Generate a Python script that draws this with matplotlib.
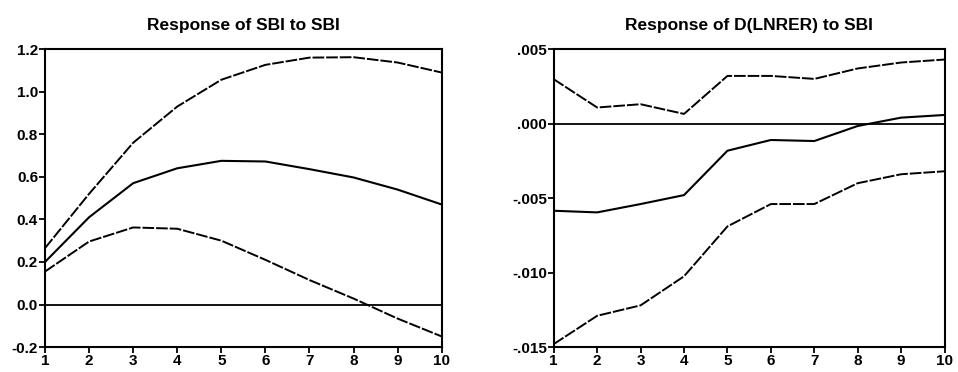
import numpy as np
import matplotlib.pyplot as plt

plt.rcParams['font.family'] = ['Liberation Sans', 'DejaVu Sans']

periods = [1, 2, 3, 4, 5, 6, 7, 8, 9, 10]

# Response of SBI to SBI
sbi_resp = [0.20, 0.41, 0.57, 0.64, 0.675, 0.672, 0.636, 0.597, 0.54, 0.47]
sbi_upper = [0.265, 0.52, 0.76, 0.93, 1.056, 1.126, 1.16, 1.162, 1.137, 1.09]
sbi_lower = [0.155, 0.296, 0.362, 0.356, 0.30, 0.21, 0.115, 0.028, -0.066, -0.15]

# Response of D(LNRER) to SBI
rer_resp = [-0.00585, -0.00596, -0.0054, -0.0048, -0.00182, -0.0011, -0.00117, -0.00016, 0.0004, 0.00058]
rer_upper = [0.00298, 0.00108, 0.0013, 0.00065, 0.0032, 0.0032, 0.0030, 0.0037, 0.0041, 0.0043]
rer_lower = [-0.0148, -0.0129, -0.0122, -0.01025, -0.0069, -0.0054, -0.0054, -0.0040, -0.0034, -0.0032]

fig = plt.figure(figsize=(9.58, 3.72), dpi=100)
ax1 = fig.add_axes([0.047, 0.067, 0.414, 0.801])
ax2 = fig.add_axes([0.578, 0.067, 0.408, 0.801])


def panel(ax, resp, up, lo, title, ylim, yticks, ylabels):
    ax.axhline(0, color='black', lw=1.3)
    ax.plot(periods, resp, color='black', lw=1.5)
    ax.plot(periods, up, color='black', lw=1.4, dashes=(6, 1))
    ax.plot(periods, lo, color='black', lw=1.4, dashes=(6, 1))
    ax.set_xlim(1, 10)
    ax.set_ylim(*ylim)
    ax.set_xticks(periods)
    ax.set_yticks(yticks)
    ax.set_yticklabels(ylabels)
    ax.set_title(title, fontsize=12.5, fontweight='bold', pad=14)
    ax.tick_params(direction='out', length=4, width=1.3, labelsize=11, pad=1)
    for lab in ax.get_xticklabels() + ax.get_yticklabels():
        lab.set_fontweight('bold')
    for s in ax.spines.values():
        s.set_linewidth(1.5)


panel(ax1, sbi_resp, sbi_upper, sbi_lower, 'Response of SBI to SBI',
      (-0.2, 1.2), [-0.2, 0.0, 0.2, 0.4, 0.6, 0.8, 1.0, 1.2],
      ['-0.2', '0.0', '0.2', '0.4', '0.6', '0.8', '1.0', '1.2'])
panel(ax2, rer_resp, rer_upper, rer_lower, 'Response of D(LNRER) to SBI',
      (-0.015, 0.005), [-0.015, -0.010, -0.005, 0.0, 0.005],
      ['-.015', '-.010', '-.005', '.000', '.005'])

fig.savefig('out.png', dpi=100)
